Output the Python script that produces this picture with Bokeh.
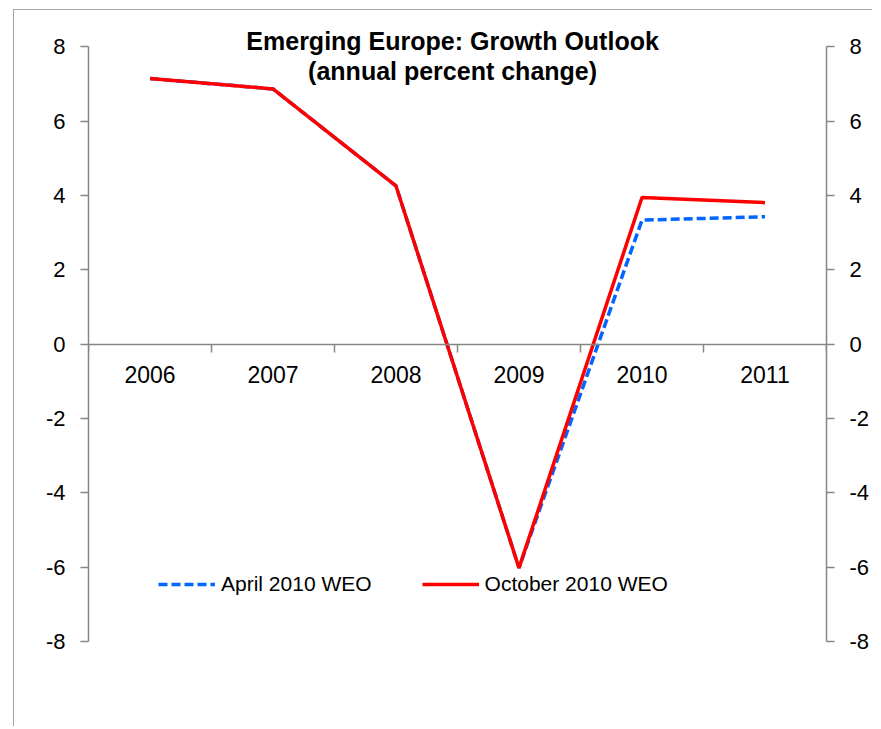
from bokeh.plotting import figure
from bokeh.models import (Range1d, LinearAxis, FixedTicker, Label, Legend, LegendItem)
from bokeh.embed import file_html
from bokeh.resources import INLINE

# ---- data ----
years = ["2006", "2007", "2008", "2009", "2010", "2011"]
october_2010 = [7.15, 6.87, 4.26, -6.02, 3.95, 3.81]
april_2010 = [7.15, 6.87, 4.26, -6.02, 3.34, 3.43]
y_ticks = [-8, -6, -4, -2, 0, 2, 4, 6, 8]
title_lines = ["Emerging Europe: Growth Outlook", "(annual percent change)"]
legend_labels = ["April 2010 WEO", "October 2010 WEO"]

centers = [i + 0.5 for i in range(len(years))]
bounds = list(range(len(years) + 1))

FONT = "Liberation Sans"
GRAY = "#868686"

p = figure(width=859, height=717, output_backend="svg", toolbar_location=None,
           x_range=Range1d(0, len(years)), y_range=Range1d(-8, 8.9),
           x_axis_location=None, y_axis_location="left",
           min_border_left=74, min_border_right=47, min_border_top=3, min_border_bottom=86)
p.styles = {"border-left": "1px solid #A6A6A6", "border-top": "1px solid #A6A6A6",
            "margin-left": "13px", "margin-top": "9px"}
p.outline_line_color = None
p.xgrid.visible = False
p.ygrid.visible = False
p.background_fill_color = "white"
p.border_fill_color = "white"

def style_y(ax, standoff):
    ax.ticker = FixedTicker(ticks=y_ticks)
    ax.bounds = (y_ticks[0], y_ticks[-1])
    ax.major_label_overrides = {v: str(v) for v in y_ticks}
    ax.major_tick_in = 0
    ax.major_tick_out = 8
    ax.minor_tick_out = 0
    ax.minor_tick_in = 0
    ax.axis_line_color = GRAY
    ax.axis_line_width = 1.5
    ax.major_tick_line_color = GRAY
    ax.major_tick_line_width = 1.5
    ax.major_label_text_font = FONT
    ax.major_label_text_font_size = "22px"
    ax.major_label_text_color = "black"
    ax.major_label_standoff = standoff

style_y(p.yaxis[0], 15)
right = LinearAxis()
style_y(right, 15)
p.add_layout(right, "right")

# x axis at y = 0: labels at category centres, tick marks at category boundaries
xax = LinearAxis(fixed_location=0, ticker=FixedTicker(ticks=centers, minor_ticks=bounds),
                 major_label_overrides={c: y for c, y in zip(centers, years)})
xax.axis_line_color = GRAY
xax.axis_line_width = 1.5
xax.major_tick_line_color = None
xax.major_tick_out = 0
xax.major_tick_in = 0
xax.minor_tick_line_color = GRAY
xax.minor_tick_line_width = 1.5
xax.minor_tick_out = 8
xax.minor_tick_in = 0
xax.major_label_standoff = 14
xax.major_label_text_font = FONT
xax.major_label_text_font_size = "23px"
xax.major_label_text_color = "black"
p.add_layout(xax, "below")

r_apr = p.line(centers, april_2010, line_color="#0066FF", line_width=3.5, line_dash="9 4")
r_oct = p.line(centers, october_2010, line_color="#FF0000", line_width=3.5)

legend = Legend(items=[LegendItem(label=legend_labels[0], renderers=[r_apr]),
                       LegendItem(label=legend_labels[1], renderers=[r_oct])],
                orientation="horizontal", location=(70, 45),
                glyph_width=57, glyph_height=22, label_standoff=6, spacing=50,
                padding=0, margin=0, border_line_color=None, background_fill_alpha=0,
                label_text_font=FONT, label_text_font_size="21px", label_text_color="black")
p.add_layout(legend, "center")

title_y = [8.153, 7.346]
for txt, yy in zip(title_lines, title_y):
    p.add_layout(Label(x=len(years) / 2 - 0.04, y=yy, text=txt, text_align="center",
                       text_baseline="middle", text_font=FONT, text_font_size="25px",
                       text_font_style="bold", text_color="black"))

open("out.html", "w").write(file_html(p, INLINE))
